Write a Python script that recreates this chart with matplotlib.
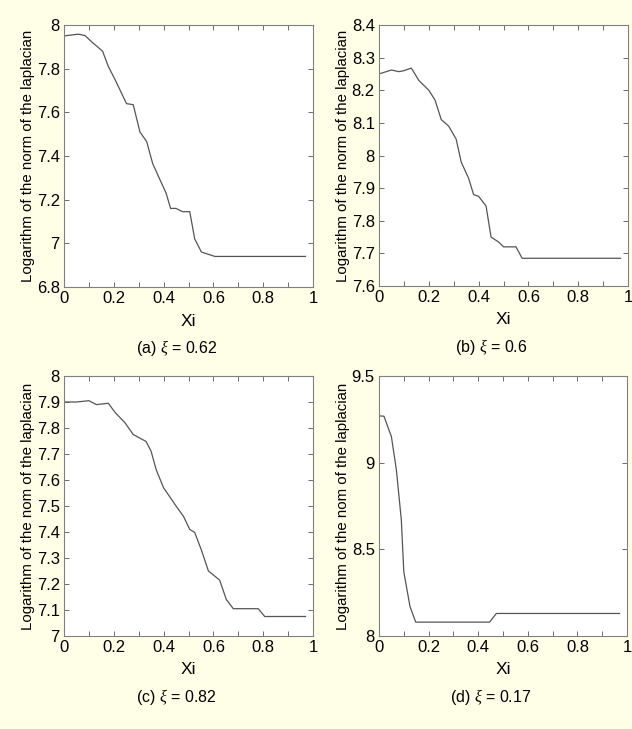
import matplotlib
matplotlib.use("Agg")
import matplotlib.pyplot as plt
from matplotlib.ticker import MultipleLocator

plt.rcParams['font.family'] = ['Liberation Sans', 'DejaVu Sans']
plt.rcParams['mathtext.fontset'] = 'custom'
plt.rcParams['mathtext.it'] = 'Liberation Serif:italic'

# Panel (a)
xa = [0.0, 0.057, 0.084, 0.11, 0.155, 0.178, 0.205, 0.251, 0.278, 0.305, 0.332, 0.356,
      0.378, 0.41, 0.428, 0.45, 0.476, 0.505, 0.525, 0.552, 0.606, 0.97]
ya = [7.95, 7.958, 7.952, 7.924, 7.88, 7.81, 7.75, 7.64, 7.635, 7.51, 7.466, 7.366,
      7.31, 7.23, 7.16, 7.16, 7.145, 7.145, 7.02, 6.96, 6.94, 6.94]

# Panel (b)
xb = [0.0, 0.05, 0.08, 0.10, 0.13, 0.16, 0.20, 0.225, 0.25, 0.28, 0.31, 0.33, 0.36,
      0.38, 0.40, 0.43, 0.45, 0.48, 0.50, 0.55, 0.575, 0.97]
yb = [8.25, 8.262, 8.257, 8.26, 8.268, 8.23, 8.20, 8.17, 8.11, 8.09, 8.05, 7.98, 7.93,
      7.88, 7.875, 7.845, 7.75, 7.735, 7.72, 7.72, 7.685, 7.685]

# Panel (c)
xc = [0.0, 0.05, 0.10, 0.13, 0.178, 0.205, 0.245, 0.278, 0.33, 0.35, 0.37, 0.40, 0.45,
      0.48, 0.505, 0.525, 0.552, 0.58, 0.625, 0.652, 0.68, 0.78, 0.806, 0.97]
yc = [7.90, 7.90, 7.905, 7.89, 7.895, 7.86, 7.82, 7.775, 7.748, 7.71, 7.64, 7.57, 7.50,
      7.46, 7.41, 7.398, 7.33, 7.25, 7.215, 7.14, 7.105, 7.105, 7.075, 7.075]

# Panel (d)
xd = [0.0, 0.02, 0.05, 0.07, 0.09, 0.10, 0.125, 0.148, 0.446, 0.473, 0.97]
yd = [9.27, 9.268, 9.15, 8.96, 8.67, 8.37, 8.17, 8.08, 8.08, 8.13, 8.13]

panels = [
    dict(x=xa, y=ya, ylim=(6.8, 8.0), ystep=0.2, ylabel='Logarithm of the norm of the laplacian',
         caption=r'(a) $\xi$ = 0.62', rect=(64, 25, 313, 287)),
    dict(x=xb, y=yb, ylim=(7.6, 8.4), ystep=0.1, ylabel='Logarithm of the norm of the laplacian',
         caption=r'(b) $\xi$ = 0.6', rect=(379, 25, 628, 286)),
    dict(x=xc, y=yc, ylim=(7.0, 8.0), ystep=0.1, ylabel='Logarithm of the nom of the laplacian',
         caption=r'(c) $\xi$ = 0.82', rect=(64, 376, 313, 636)),
    dict(x=xd, y=yd, ylim=(8.0, 9.5), ystep=0.5, ylabel='Logarithm of the nom of the laplacian',
         caption=r'(d) $\xi$ = 0.17', rect=(379, 376, 627, 636)),
]

W, H = 632, 729
bg = '#FFFEE6'
fig = plt.figure(figsize=(W / 100, H / 100), dpi=100, facecolor=bg)

fmt = plt.FuncFormatter(lambda v, pos: ('%g' % round(v, 3)))

for p in panels:
    l, t, r, b = p['rect']
    ax = fig.add_axes([l / W, 1 - b / H, (r - l) / W, (b - t) / H])
    ax.plot(p['x'], p['y'], color='#555555', lw=0.9)
    ax.set_xlim(0, 1)
    ax.set_ylim(*p['ylim'])
    ax.xaxis.set_major_locator(MultipleLocator(0.2))
    ax.xaxis.set_minor_locator(MultipleLocator(0.1))
    ax.yaxis.set_major_locator(MultipleLocator(p['ystep']))
    ax.xaxis.set_major_formatter(fmt)
    ax.yaxis.set_major_formatter(fmt)
    ax.tick_params(which='both', direction='in', top=True, right=True, length=3.5,
                   width=0.6, color='#555555', labelsize=12)
    ax.tick_params(axis='y', pad=3)
    ax.tick_params(axis='x', pad=3)
    for s in ax.spines.values():
        s.set_color('#808080')
        s.set_linewidth(0.8)
    ax.set_ylabel(p['ylabel'], fontsize=10.8, labelpad=1)
    cx = (l + r) / 2 / W
    fig.text(cx, 1 - (b + 34) / H, 'Xi', ha='center', va='center', fontsize=12.5)
    fig.text(cx - 12 / W, 1 - (b + 61) / H, p['caption'], ha='center', va='center', fontsize=11.5)

fig.savefig('out.png', dpi=100, facecolor=bg)
